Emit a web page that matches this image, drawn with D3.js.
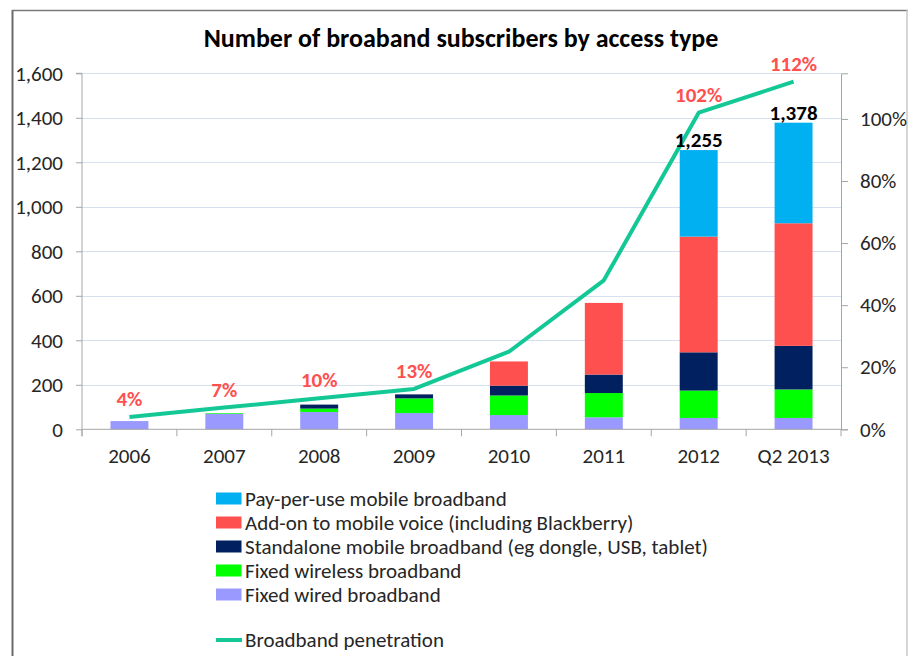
<!DOCTYPE html>
<html>
<head>
<meta charset="utf-8">
<script src="https://cdn.jsdelivr.net/npm/d3@7"></script>
<style>
  body { margin: 0; background: #fff; }
  svg { display: block; font-family: Carlito, Calibri, Lato, sans-serif; }
</style>
</head>
<body>
<svg id="chart" width="908" height="656"></svg>
<script>
const categories = ["2006", "2007", "2008", "2009", "2010", "2011", "2012", "Q2 2013"];
const fixedWired = [37, 70, 78, 73, 64, 54, 51, 51];
const fixedWireless = [0, 3, 15, 66, 88, 109, 123, 128];
const standaloneMobile = [0, 0, 18, 18, 44, 83, 172, 196];
const addOnMobileVoice = [0, 0, 0, 0, 109, 322, 520, 551];
const payPerUse = [0, 0, 0, 0, 0, 0, 389, 452];
const totalLabels = ["", "", "", "", "", "", "1,255", "1,378"];
const penetration = [0.04, 0.07, 0.10, 0.13, 0.25, 0.48, 1.02, 1.12];
const penetrationLabels = ["4%", "7%", "10%", "13%", "", "", "102%", "112%"];
const leftTicks = [0, 200, 400, 600, 800, 1000, 1200, 1400, 1600];
const rightTicks = [0, 0.2, 0.4, 0.6, 0.8, 1.0];

const seriesNames = [
  "Fixed wired broadband",
  "Fixed wireless broadband",
  "Standalone mobile broadband (eg dongle, USB, tablet)",
  "Add-on to mobile voice (including Blackberry)",
  "Pay-per-use mobile broadband"
];
const seriesValues = [fixedWired, fixedWireless, standaloneMobile, addOnMobileVoice, payPerUse];
const seriesColors = ["#9999ff", "#00ff00", "#002060", "#ff5050", "#00b0f0"];
const lineColor = "#14c896";

(function () {
const svg = d3.select("#chart");
const FONT = "Carlito, Calibri, Lato, sans-serif";

// frame
svg.append("line").attr("x1", 12.5).attr("x2", 12.5).attr("y1", 10).attr("y2", 656).attr("stroke", "#6b6b6b").attr("stroke-width", 2);
svg.append("line").attr("x1", 12).attr("x2", 908).attr("y1", 10.5).attr("y2", 10.5).attr("stroke", "#7a7a7a").attr("stroke-width", 1.5);
svg.append("line").attr("x1", 907).attr("x2", 907).attr("y1", 10).attr("y2", 656).attr("stroke", "#c8c8c8").attr("stroke-width", 1.5);

const pLeft = 82, pRight = 841, pTop = 73.3, pBottom = 429.3;

const x = d3.scaleBand().domain(categories).range([pLeft, pRight]).paddingInner(0.6).paddingOuter(0.3);
const y = d3.scaleLinear().domain([0, 1600]).range([pBottom, pTop]);
const y2 = d3.scaleLinear().domain([0, 1.147]).range([pBottom, pTop]);

// gridlines
svg.append("g").selectAll("line").data(leftTicks.filter(d => d > 0)).join("line")
  .attr("x1", pLeft).attr("x2", pRight)
  .attr("y1", d => Math.round(y(d)) + 0.5).attr("y2", d => Math.round(y(d)) + 0.5)
  .attr("stroke", "#d6e0ee").attr("stroke-width", 1.2);

// stacked bars
const table = categories.map((c, i) => {
  const row = { cat: c };
  seriesNames.forEach((n, k) => row[n] = seriesValues[k][i]);
  return row;
});
const stacked = d3.stack().keys(seriesNames)(table);
svg.append("g").selectAll("g").data(stacked).join("g")
  .attr("fill", (d, k) => seriesColors[k])
  .selectAll("rect").data(d => d).join("rect")
  .attr("x", d => x(d.data.cat))
  .attr("width", x.bandwidth())
  .attr("y", d => y(d[1]))
  .attr("height", d => Math.max(0, y(d[0]) - y(d[1])));

// axes
const fontColor = "#262626";
const axisColor = "#a6a6a6";
const gl = svg.append("g").attr("transform", `translate(${pLeft},0)`)
  .call(d3.axisLeft(y).tickValues(leftTicks).tickFormat(d3.format(",")).tickSize(6).tickPadding(13));
const gr = svg.append("g").attr("transform", `translate(${pRight},0)`)
  .call(d3.axisRight(y2).tickValues(rightTicks).tickFormat(d3.format(".0%")).tickSize(7).tickPadding(12));
const gb = svg.append("g").attr("transform", `translate(0,${pBottom})`)
  .call(d3.axisBottom(x).tickSize(0).tickPadding(19));
const bounds = categories.map(c => x(c) - x.step() * x.paddingInner() / 2).concat([pRight]);
svg.append("g").selectAll("line").data(bounds).join("line")
  .attr("x1", d => d).attr("x2", d => d).attr("y1", pBottom).attr("y2", pBottom + 7)
  .attr("stroke", axisColor);

[gl, gr, gb].forEach(g => {
  g.selectAll(".domain").attr("stroke", axisColor);
  g.selectAll(".tick line").attr("stroke", axisColor);
  g.selectAll("text").attr("fill", fontColor).style("font-size", "21px").style("font-family", FONT);
});
gl.select(".domain").attr("d", `M-6,${pTop}H0V${pBottom + 7}`);
gb.select(".domain").attr("d", `M${pLeft},0H${pRight}`);

// penetration line
const line = d3.line().x((d, i) => x(categories[i]) + x.bandwidth() / 2).y(d => y2(d));
svg.append("path").datum(penetration).attr("d", line)
  .attr("fill", "none").attr("stroke", lineColor).attr("stroke-width", 4).attr("stroke-linejoin", "round");

// penetration labels
svg.append("g").selectAll("text").data(penetration).join("text")
  .attr("x", (d, i) => x(categories[i]) + x.bandwidth() / 2)
  .attr("y", d => y2(d) - 11)
  .attr("text-anchor", "middle")
  .attr("fill", "#ff5050").attr("font-weight", "bold").style("font-size", "21px")
  .text((d, i) => penetrationLabels[i]);

// total labels
const totals = categories.map((c, i) => seriesValues.reduce((s, arr) => s + arr[i], 0));
svg.append("g").selectAll("text").data(totals).join("text")
  .attr("x", (d, i) => x(categories[i]) + x.bandwidth() / 2)
  .attr("y", d => y(d) - 3)
  .attr("text-anchor", "middle")
  .attr("fill", "#000").attr("font-weight", "bold").style("font-size", "21px")
  .text((d, i) => totalLabels[i]);

// title
svg.append("text").attr("x", 461).attr("y", 47).attr("text-anchor", "middle")
  .attr("font-weight", "bold").style("font-size", "26px").attr("fill", "#000")
  .text("Number of broaband subscribers by access type");

// legend
const legendOrder = [4, 3, 2, 1, 0];
const lg = svg.append("g");
legendOrder.forEach((k, j) => {
  const cy = 498.5 + j * 24;
  lg.append("rect").attr("x", 216).attr("y", cy - 6).attr("width", 25.5).attr("height", 12).attr("fill", seriesColors[k]);
  lg.append("text").attr("x", 245).attr("y", cy).attr("dy", "0.35em")
    .attr("fill", fontColor).style("font-size", "21px").text(seriesNames[k]);
});
lg.append("line").attr("x1", 216).attr("x2", 242).attr("y1", 640).attr("y2", 640)
  .attr("stroke", lineColor).attr("stroke-width", 4);
lg.append("text").attr("x", 245).attr("y", 640).attr("dy", "0.35em")
  .attr("fill", fontColor).style("font-size", "21px").text("Broadband penetration");
})();
</script>
</body>
</html>
